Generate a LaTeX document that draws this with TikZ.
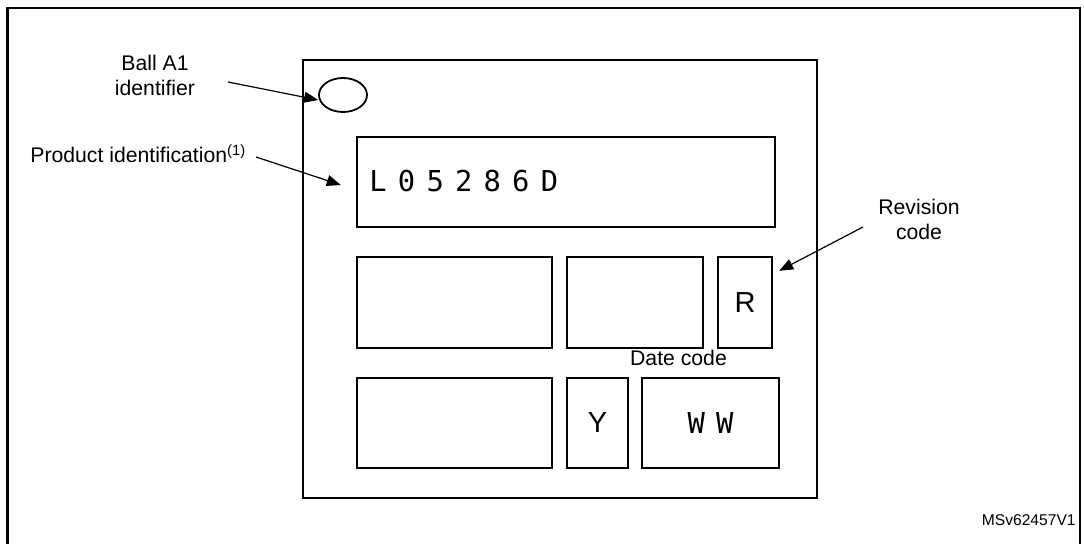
\documentclass[tikz,border=0pt]{standalone}
\usepackage{fontspec}
\setmainfont{Liberation Sans}
\newfontfamily\markfont[LetterSpace=39]{DejaVu Sans Mono}
\usepackage{tikz}
\usetikzlibrary{arrows.meta,positioning,shapes.geometric,calc}

\begin{document}
\begin{tikzpicture}[
    x=0.5pt, y=-0.5pt,
    every node/.style={font=\fontsize{10.6}{12.5}\selectfont},
    pointer/.style={line width=0.6pt, -{Triangle[length=7pt, width=5.5pt]}},
    field/.style={draw, line width=1.2pt, inner sep=0pt},
    marking/.style={inner sep=0pt, font=\fontsize{14.4}{16}\markfont},
    letter/.style={inner sep=0pt, font=\fontsize{14.5}{16}\selectfont},
]
    \useasboundingbox (0,0) rectangle (1084,544);
    \draw[line width=1.1pt] (7.5,544) -- (7.5,8) -- (1080,8) -- (1080,544);

    % package top view
    \node[field, minimum width=257pt, minimum height=219pt] (chip) at (560,279) {};
    \node[field, ellipse, line width=0.9pt, minimum width=24pt, minimum height=17pt] (pin) at (343,95) {};
    \node[field, minimum width=209pt, minimum height=45pt] (idbox) at (566,182) {};
    \node[marking, anchor=west] (idtext) at (369,181) {L05286D};

    \node[field, minimum width=97.5pt, minimum height=45.5pt] (fielda) at (454.5,302.5) {};
    \node[field, minimum width=68pt, minimum height=45.5pt] (fieldb) at (635,302.5) {};
    \node[field, minimum width=27pt, minimum height=45.5pt] (revbox) at (745,302.5) {};
    \node[letter] (rev) at (revbox) {R};

    \node[field, minimum width=97.5pt, minimum height=45pt] (fieldc) at (454.5,423) {};
    \node[field, minimum width=30.5pt, minimum height=45pt] (yearbox) at (597.5,423) {};
    \node[letter] (year) at (yearbox) {Y};
    \node[field, minimum width=68.5pt, minimum height=45pt] (weekbox) at (710.5,423) {};
    \node[marking] (week) at (weekbox) {WW};

    % labels
    \node[align=center] (balllbl) at (155,75.5) {Ball A1\\identifier};
    \node[anchor=base west, inner sep=0pt] (prodlbl) at (30,163) {Product identification\textsuperscript{(1)}};
    \node[align=center] (revlbl) at (919,219) {Revision\\code};
    \node (datelbl) at (678.5,358) {Date code};
    \node[anchor=east, inner sep=0pt, font=\fontsize{7.8}{9}\selectfont] (refid) at (1076,520) {MSv62457V1};

    % pointers
    \coordinate (balltail) at (228,82);
    \coordinate (prodtail) at (256,157);
    \coordinate (revtail) at (863,227);
    \draw[pointer] (balltail) -- ([yshift=-2.5pt]pin.west);
    \draw[pointer] (prodtail) -- ([xshift=-7.5pt,yshift=-1.5pt]idbox.west);
    \draw[pointer] (revtail) -- ([xshift=3pt,yshift=-7.5pt]revbox.north east);
\end{tikzpicture}
\end{document}
